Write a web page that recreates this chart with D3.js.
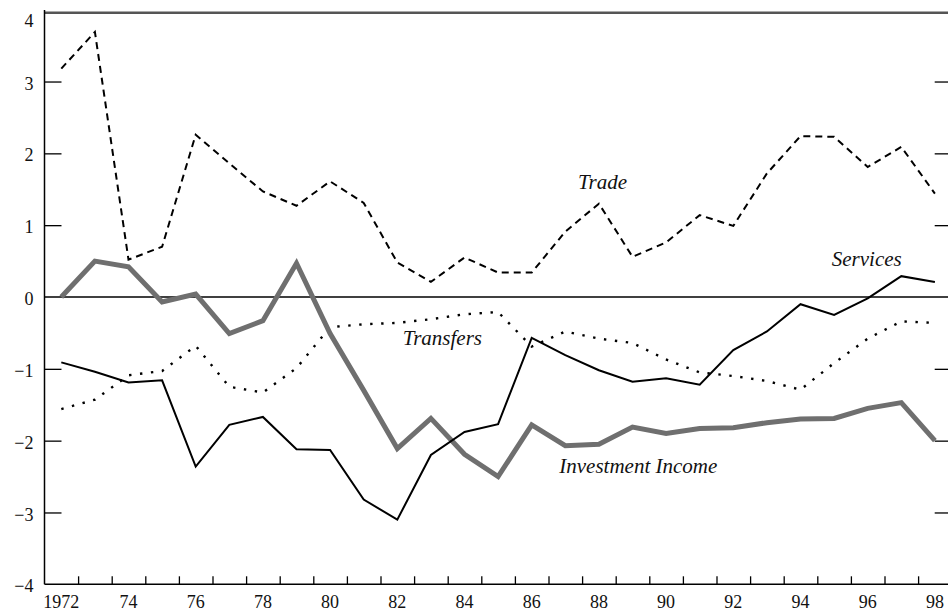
<!DOCTYPE html>
<html>
<head>
<meta charset="utf-8">
<script src="https://cdn.jsdelivr.net/npm/d3@7"></script>
<style>
  html, body { margin: 0; padding: 0; background: #fff; }
  svg { display: block; }
  text { font-family: "Liberation Serif", "Times New Roman", serif; }
</style>
</head>
<body>
<svg id="chart" width="948" height="614"></svg>
<script>
const years = d3.range(1972, 1999);
const trade = [3.18, 3.69, 0.52, 0.70, 2.26, 1.86, 1.47, 1.27, 1.61, 1.31, 0.48, 0.21, 0.55, 0.34, 0.34, 0.91, 1.30, 0.56, 0.76, 1.14, 0.99, 1.72, 2.24, 2.23, 1.81, 2.09, 1.44];
const investmentIncome = [0.00, 0.50, 0.42, -0.07, 0.04, -0.51, -0.33, 0.47, -0.51, -1.30, -2.11, -1.69, -2.19, -2.50, -1.78, -2.07, -2.05, -1.81, -1.90, -1.83, -1.82, -1.75, -1.70, -1.69, -1.55, -1.47, -2.00];
const services = [-0.91, -1.04, -1.19, -1.16, -2.36, -1.78, -1.67, -2.12, -2.13, -2.82, -3.10, -2.20, -1.88, -1.77, -0.57, -0.81, -1.02, -1.18, -1.13, -1.22, -0.74, -0.48, -0.10, -0.25, -0.02, 0.29, 0.21];
const transfers = [-1.56, -1.43, -1.09, -1.03, -0.68, -1.25, -1.33, -0.99, -0.42, -0.38, -0.36, -0.31, -0.24, -0.21, -0.69, -0.48, -0.58, -0.64, -0.87, -1.05, -1.10, -1.17, -1.29, -0.92, -0.58, -0.34, -0.36];
const xTickLabels = ["1972", "74", "76", "78", "80", "82", "84", "86", "88", "90", "92", "94", "96", "98"];
const yTicks = [-4, -3, -2, -1, 0, 1, 2, 3, 4];
const seriesLabels = [
  { name: "Trade", year: 1987.38, value: 1.51 },
  { name: "Services", year: 1994.93, value: 0.43 },
  { name: "Transfers", year: 1982.16, value: -0.675 },
  { name: "Investment Income", year: 1986.82, value: -2.455 }
];

const FONT = "'Liberation Serif', 'Times New Roman', serif";
const svg = d3.select("#chart");
const x = d3.scaleLinear().domain([1971.5, 1998.5]).range([44.5, 951.7]);
const y = d3.scaleLinear().domain([-4, 4]).range([584.3, 9.7]);
const fmt = v => v < 0 ? "\u2212" + Math.abs(v) : String(v);

// top frame
svg.append("line")
  .attr("x1", x(1971.5)).attr("x2", 948)
  .attr("y1", 12.7).attr("y2", 12.7)
  .attr("stroke", "#555").attr("stroke-width", 2.5);

// zero line
svg.append("line")
  .attr("x1", x(1971.5)).attr("x2", 948)
  .attr("y1", y(0)).attr("y2", y(0))
  .attr("stroke", "#000").attr("stroke-width", 1.3);

// left axis
const yAxisL = svg.append("g")
  .attr("transform", `translate(${x(1971.5)},0)`)
  .call(d3.axisLeft(y).tickValues(yTicks).tickSize(-17).tickPadding(28).tickFormat(fmt));
yAxisL.attr("font-family", FONT);
yAxisL.select(".domain").attr("stroke", "#000").attr("stroke-width", 1.5)
  .attr("d", `M0,${10}V${y(-4)}`);
yAxisL.selectAll(".tick line").attr("stroke", "#000").attr("stroke-width", 1.3)
  .filter(d => d === 4 || d === -4 || d === 0).remove();
yAxisL.selectAll(".tick text")
  .attr("font-family", FONT)
  .attr("font-size", 18).attr("fill", "#111")
  .attr("dx", 17)
  .attr("dy", d => d === 4 ? "0.95em" : "0.42em");

// right axis (ticks only)
const yAxisR = svg.append("g")
  .attr("transform", `translate(${x(1998.5)},0)`)
  .call(d3.axisRight(y).tickValues([-3, -2, -1, 1, 2, 3]).tickSize(-17).tickFormat(""));
yAxisR.select(".domain").remove();
yAxisR.selectAll(".tick line").attr("stroke", "#000").attr("stroke-width", 1.3);

// bottom axis
const xTicks = d3.range(1972.5, 1998.5, 1);
const xAxis = svg.append("g")
  .attr("transform", `translate(0,${y(-4)})`)
  .call(d3.axisBottom(x).tickValues(xTicks).tickSize(-8).tickFormat(""));
xAxis.select(".domain").attr("stroke", "#000").attr("stroke-width", 1.5)
  .attr("d", `M${x(1971.5)},0H948`);
xAxis.selectAll(".tick line").attr("stroke", "#000").attr("stroke-width", 1.3);

// x labels
const labelYears = d3.range(1972, 1999, 2);
svg.append("g").selectAll("text")
  .data(labelYears)
  .join("text")
  .attr("x", d => x(d))
  .attr("y", y(-4) + 24)
  .attr("text-anchor", "middle")
  .attr("font-family", FONT)
  .attr("font-size", 18)
  .attr("fill", "#111")
  .text((d, i) => xTickLabels[i]);

const line = d3.line().x((d, i) => x(years[i])).y(d => y(d));

svg.append("path").datum(transfers)
  .attr("d", line).attr("fill", "none")
  .attr("stroke", "#000").attr("stroke-width", 2.4)
  .attr("stroke-dasharray", "2.4,8.6");

svg.append("path").datum(trade)
  .attr("d", line).attr("fill", "none")
  .attr("stroke", "#000").attr("stroke-width", 2)
  .attr("stroke-dasharray", "7,5");

svg.append("path").datum(investmentIncome)
  .attr("d", line).attr("fill", "none")
  .attr("stroke", "#6f6f6f").attr("stroke-width", 5)
  .attr("stroke-linejoin", "miter");

svg.append("path").datum(services)
  .attr("d", line).attr("fill", "none")
  .attr("stroke", "#000").attr("stroke-width", 2);

// series labels
svg.append("g").selectAll("text")
  .data(seriesLabels)
  .join("text")
  .attr("x", d => x(d.year))
  .attr("y", d => y(d.value))
  .attr("font-family", FONT)
  .attr("font-size", 21)
  .attr("font-style", "italic")
  .attr("fill", "#111")
  .text(d => d.name);
</script>
</body>
</html>
